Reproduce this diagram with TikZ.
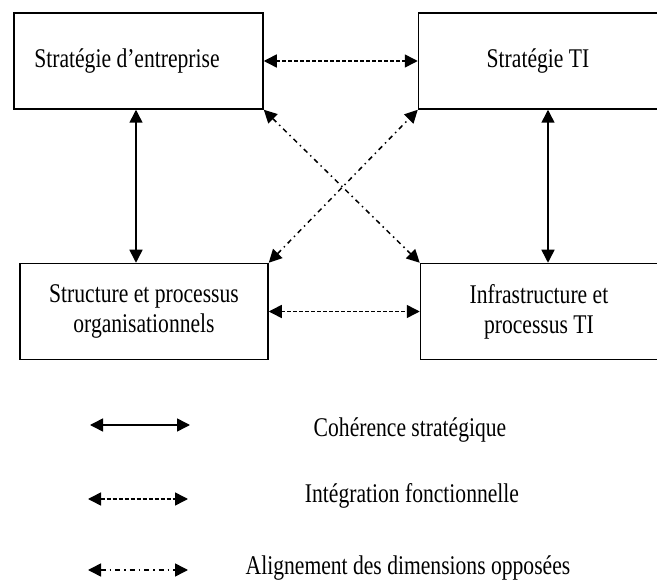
\documentclass[tikz,border=0pt]{standalone}
\usepackage{fontspec}
\setmainfont[FakeStretch=0.8]{Liberation Serif}
\usetikzlibrary{arrows.meta, positioning}

\begin{document}
\begin{tikzpicture}[
    x=1pt, y=-1pt,
    node distance=153pt and 154pt,
    bloc/.style={rectangle, draw, line width=1.5pt, minimum width=#1, minimum height=96pt, align=center, font=\fontsize{27}{30}\selectfont, inner sep=0pt},
    lien/.style={{Triangle[length=13pt,width=13pt]}-{Triangle[length=13pt,width=13pt]}, line width=1.5pt, #1},
    lien/.default=solid,
    integ/.style={dash pattern=on 4pt off 2pt},
    align dim/.style={dash pattern=on 5pt off 4pt on 1.5pt off 4pt},
    legende/.style={font=\fontsize{27}{30}\selectfont},
]
    \useasboundingbox (0,0) rectangle (657,580);

    % Blocs
    \node[bloc=249pt] (strat) at (138.5,61) {Stratégie d'entreprise\hspace*{23pt}};
    \node[bloc=239pt, right=of strat] (stratti) {Stratégie TI};
    \node[bloc=248pt, below=of strat, xshift=5.5pt] (struct) {Structure et processus\\organisationnels};
    \node[bloc=237pt, below=of stratti, xshift=1pt] (infra) {Infrastructure et\\processus TI};

    % Liens
    \draw[lien] ([xshift=-2.5pt]strat.south) -- ([xshift=-2.5pt]strat.south |- struct.north);
    \draw[lien] ([xshift=10pt]stratti.south) -- ([xshift=10pt]stratti.south |- infra.north);

    \draw[lien=integ] (strat.east) -- (strat.east -| stratti.west);
    \draw[lien=integ] (struct.east) -- (struct.east -| infra.west);

    \draw[lien=align dim] (strat.south east) -- (infra.north west);
    \draw[lien=align dim] (struct.north east) -- (stratti.south west);

    % Legende
    \coordinate (leg1a) at (90,425);  \coordinate (leg1b) at (190,425);
    \coordinate (leg2a) at (88,499);  \coordinate (leg2b) at (188,499);
    \coordinate (leg3a) at (88,570);  \coordinate (leg3b) at (188,570);

    \draw[lien] (leg1a) -- (leg1b);
    \draw[lien=integ] (leg2a) -- (leg2b);
    \draw[lien=align dim] (leg3a) -- (leg3b);

    \node[legende] (coh) at (410,430) {Cohérence stratégique};
    \node[legende] (int) at (412,496) {Intégration fonctionnelle};
    \node[legende] (ali) at (408,568) {Alignement des dimensions opposées};

\end{tikzpicture}
\end{document}
